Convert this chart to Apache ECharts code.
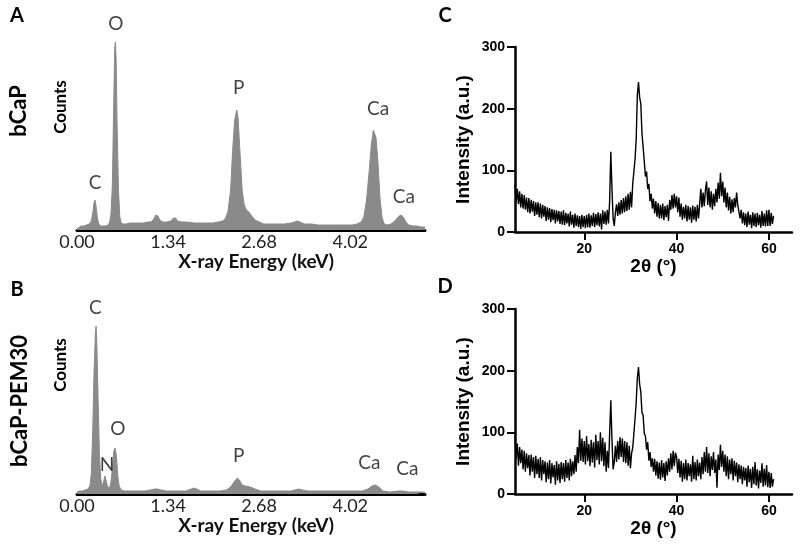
<!DOCTYPE html>
<html>
<head>
<meta charset="utf-8">
<script src="https://cdn.jsdelivr.net/npm/echarts@6/dist/echarts.min.js"></script>
<style>html,body{margin:0;padding:0;background:#fff;}#c{width:800px;height:554px;}</style>
</head>
<body>
<div id="c"></div>
<script>
// ---------- EDS spectra (panels A, B) ----------
const energyTicks = [0, 1.34, 2.68, 4.02];
const energyA = [0,0.02,0.06,0.10,0.14,0.18,0.21,0.23,0.25,0.265,0.28,0.30,0.32,0.35,0.38,0.42,0.46,0.48,0.50,0.52,0.54,0.555,0.565,0.575,0.59,0.61,0.63,0.65,0.68,0.72,0.78,0.85,0.92,0.98,1.04,1.08,1.12,1.16,1.19,1.22,1.26,1.32,1.38,1.42,1.45,1.48,1.54,1.62,1.72,1.82,1.92,2.0,2.08,2.14,2.18,2.22,2.26,2.29,2.32,2.35,2.37,2.40,2.43,2.46,2.49,2.53,2.57,2.62,2.68,2.75,2.85,2.95,3.05,3.15,3.2,3.24,3.28,3.35,3.45,3.55,3.65,3.75,3.85,3.95,4.05,4.12,4.18,4.22,4.26,4.30,4.33,4.36,4.38,4.40,4.43,4.46,4.49,4.52,4.56,4.62,4.66,4.70,4.74,4.77,4.80,4.84,4.88,4.94,5.0,5.06,5.12];
const countsA = [1,3,4,4,5,6,9,16,27,30,24,12,6,4,4,4,5,8,16,45,125,182,188,172,105,40,13,7,6,6,7,7,7,7,8,8,10,15,14,10,8,8,9,12,12,9,8,8,7,7,7,7,8,9,11,18,40,80,110,120,112,75,40,25,20,18,14,10,8,6,6,6,6,7,8,9,8,6,6,5,5,5,5,5,5,6,8,13,30,60,85,100,101,92,65,30,12,6,5,6,8,11,14,15,13,8,5,4,4,3,3];
const energyB = [0,0.04,0.08,0.12,0.16,0.19,0.21,0.23,0.25,0.27,0.28,0.29,0.31,0.33,0.35,0.37,0.39,0.41,0.43,0.45,0.48,0.50,0.52,0.54,0.56,0.58,0.60,0.62,0.65,0.70,0.8,0.9,1.0,1.08,1.14,1.18,1.24,1.32,1.45,1.6,1.68,1.72,1.76,1.82,1.95,2.1,2.2,2.26,2.31,2.36,2.39,2.43,2.48,2.55,2.62,2.7,2.8,3.0,3.15,3.2,3.26,3.32,3.4,3.6,3.8,4.0,4.2,4.28,4.34,4.39,4.44,4.5,4.6,4.72,4.8,4.88,5.0,5.12];
const countsB = [2,3,3,4,5,8,20,60,120,160,168,155,95,40,15,8,12,18,13,7,6,12,25,42,46,38,18,8,4,3,3,3,3,4,5,5,4,3,3,3,5,6,5,3,3,3,4,7,12,16,14,9,8,7,5,3,3,3,3,4,5,4,3,3,3,3,3,5,8,9,7,3,2,3,3,2,2,2];
const peakNamesA = ['C','O','P','Ca','Ca'];
const peakEnergyA = [0.265, 0.57, 2.38, 4.43, 4.81];
const peakLevelA = [47, 206, 142, 121, 33];
const peakNamesB = ['C','N','O','P','Ca','Ca'];
const peakEnergyB = [0.27, 0.44, 0.60, 2.38, 4.30, 4.86];
const peakLevelB = [186, 29, 65, 38, 31, 25];

// ---------- XRD patterns (panels C, D) ----------
const thetaStart = 5, thetaStep = 0.25;
const thetaTicks = [20, 40, 60];
const intensityC = [
 78,48,70,45,66,40,62,38,60,36,56,32,55,30,52,33,50,26,48,28,
 48,24,46,22,44,25,42,18,40,20,39,16,37,19,36,14,35,17,34,13,
 33,12,35,11,31,14,30,9,33,12,28,7,30,10,27,8,26,5,28,8,
 26,6,28,8,30,7,27,10,31,8,29,11,32,9,30,4,35,13,33,12,
 36,14,50,130,70,22,10,32,45,26,48,28,52,30,55,32,58,34,62,36,
 65,40,78,76,118,150,222,243,218,208,160,138,115,90,98,70,78,50,62,38,
 54,30,50,25,47,22,44,22,46,19,42,24,44,18,52,36,60,38,62,40,
 58,32,56,25,46,20,41,22,44,17,42,20,40,15,43,20,41,17,44,22,
 45,70,40,64,42,68,82,44,72,40,66,36,62,42,70,48,80,54,96,58,
 82,48,72,40,64,35,57,30,53,32,55,40,64,44,46,22,36,14,32,11,
 30,8,33,12,28,6,32,10,30,8,31,11,28,7,34,10,30,9,35,10,
 36,10,31,13,26];
const intensityD = [
 96,58,82,46,76,50,72,40,70,36,66,42,63,30,64,36,60,26,62,32,
 57,26,60,22,55,32,53,19,51,24,55,17,50,27,47,15,53,22,49,18,
 52,24,50,20,55,26,51,22,57,29,53,32,63,36,76,50,104,54,90,52,
 86,48,94,53,81,45,88,51,84,43,96,55,86,48,100,53,91,45,84,36,
 70,42,98,152,88,40,52,78,52,86,56,92,60,90,52,86,50,84,46,78,
 42,66,75,98,122,148,188,206,178,166,132,128,98,94,72,84,54,68,44,58,
 36,57,30,53,25,51,23,55,27,50,21,53,30,58,36,66,40,70,45,67,
 60,34,57,27,54,20,50,24,56,22,50,29,48,20,62,24,52,22,56,29,
 51,24,60,32,68,36,76,34,66,29,61,39,68,34,56,10,64,39,80,44,
 70,36,64,29,61,24,56,32,58,22,54,29,51,19,48,24,46,16,44,22,
 42,12,46,19,41,10,44,16,52,14,40,9,38,18,50,12,41,14,47,11,
 36,10,34,12,24];

const zip = (xs, ys) => xs.map((x, i) => [x, ys[i]]);
const xrd = ys => ys.map((y, i) => [thetaStart + thetaStep * i, y]);
const labels = (names, xs, ys) => names.map((n, i) => ({name: n, value: [xs[i], ys[i]]}));

const EDS_GRAY = '#8a8a8a';
const edsFont = 'Lato, "Open Sans", sans-serif';
const prismFont = '"Liberation Sans", Arial, sans-serif';

function edsX(gi) {
  return {
    gridIndex: gi, type: 'value', min: 0, max: 5.12,
    axisLine: {show: true, lineStyle: {color: '#000', width: 3}},
    axisTick: {show: false}, splitLine: {show: false},
    axisLabel: {customValues: energyTicks, formatter: v => v.toFixed(2), fontFamily: edsFont, fontSize: 18, color: '#222', margin: 3},
    name: 'X-ray Energy (keV)', nameLocation: 'middle', nameGap: 19,
    nameTextStyle: {fontFamily: edsFont, fontWeight: 'bold', fontSize: 19, color: '#111', padding: [0, 0, 0, 10]}
  };
}
function edsY(gi) {
  return {gridIndex: gi, type: 'value', min: 0, max: 220, show: false};
}
function xrdX(gi) {
  return {
    gridIndex: gi, type: 'value', min: 5, max: 65,
    axisLine: {show: true, lineStyle: {color: '#000', width: 2.5}},
    axisTick: {show: true, customValues: thetaTicks, length: 8, lineStyle: {color: '#000', width: 2}},
    axisLabel: {customValues: thetaTicks, fontFamily: prismFont, fontWeight: 'bold', fontSize: 14, color: '#000', margin: 10},
    splitLine: {show: false},
    name: '2θ (°)', nameLocation: 'middle', nameGap: 24,
    nameTextStyle: {fontFamily: prismFont, fontWeight: 'bold', fontSize: 19, color: '#000'}
  };
}
function xrdY(gi) {
  return {
    gridIndex: gi, type: 'value', min: 0, max: 300, interval: 100,
    axisLine: {show: true, lineStyle: {color: '#000', width: 2.5}},
    axisTick: {show: true, length: 8, lineStyle: {color: '#000', width: 2}},
    axisLabel: {fontFamily: prismFont, fontWeight: 'bold', fontSize: 14, color: '#000', margin: 10},
    splitLine: {show: false},
    name: 'Intensity (a.u.)', nameLocation: 'middle', nameRotate: 90, nameGap: 42,
    nameTextStyle: {fontFamily: prismFont, fontWeight: 'bold', fontSize: 19, color: '#000'}
  };
}
function edsSeries(gi, data) {
  return {type: 'line', xAxisIndex: gi, yAxisIndex: gi, data, symbol: 'none', silent: true,
    lineStyle: {color: EDS_GRAY, width: 1}, areaStyle: {color: EDS_GRAY, opacity: 1}, z: 2};
}
function labelSeries(gi, data) {
  return {type: 'scatter', xAxisIndex: gi, yAxisIndex: gi, data, symbolSize: 1, silent: true, z: 5,
    itemStyle: {color: 'rgba(0,0,0,0)'},
    label: {show: true, position: 'inside', formatter: '{b}', fontFamily: edsFont, fontSize: 19, color: '#111'}};
}
function xrdSeries(gi, data) {
  return {type: 'line', xAxisIndex: gi, yAxisIndex: gi, data, symbol: 'none', silent: true,
    lineStyle: {color: '#000', width: 1.4}};
}
function txt(text, x, y, size, rot, font) {
  return {type: 'text', x, y, rotation: rot || 0, silent: true,
    style: {text, font: 'bold ' + size + 'px ' + (font || edsFont), fill: '#000', align: 'center', verticalAlign: 'middle'}};
}

const chart = echarts.init(document.getElementById('c'), null, {renderer: 'canvas'});
chart.setOption({
  animation: false,
  backgroundColor: '#fff',
  grid: [
    {left: 77, top: 10, width: 348, height: 220},
    {left: 77, top: 274, width: 348, height: 220},
    {left: 515, top: 47, width: 277, height: 185},
    {left: 515, top: 309, width: 277, height: 185}
  ],
  xAxis: [edsX(0), edsX(1), xrdX(2), xrdX(3)],
  yAxis: [edsY(0), edsY(1), xrdY(2), xrdY(3)],
  series: [
    edsSeries(0, zip(energyA, countsA)),
    edsSeries(1, zip(energyB, countsB)),
    labelSeries(0, labels(peakNamesA, peakEnergyA, peakLevelA)),
    labelSeries(1, labels(peakNamesB, peakEnergyB, peakLevelB)),
    xrdSeries(2, xrd(intensityC)),
    xrdSeries(3, xrd(intensityD))
  ],
  graphic: [
    txt('A', 17, 16, 20),
    txt('B', 17, 290, 20),
    txt('C', 445, 16, 20),
    txt('D', 445, 287, 20),
    txt('bCaP', 19, 111, 22, Math.PI / 2),
    txt('bCaP-PEM30', 20, 401, 22, Math.PI / 2),
    txt('Counts', 61, 107, 17, Math.PI / 2),
    txt('Counts', 61, 365, 17, Math.PI / 2)
  ]
});
</script>
</body>
</html>
